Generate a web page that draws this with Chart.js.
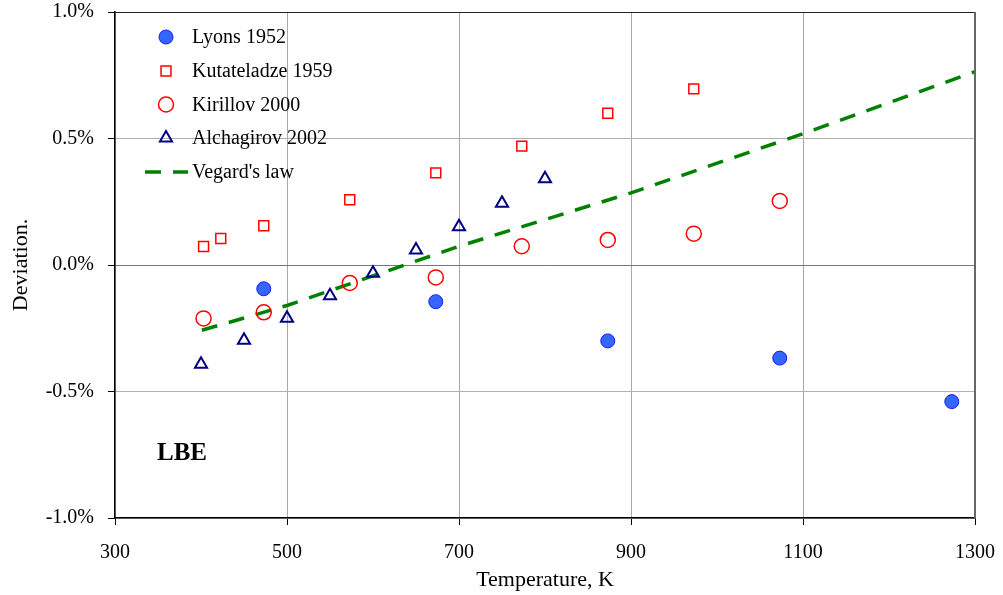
<!DOCTYPE html>
<html>
<head>
<meta charset="utf-8">
<script src="https://cdn.jsdelivr.net/npm/chart.js@4/dist/chart.umd.min.js"></script>
<style>
  body { margin: 0; background: #fff; }
  #wrap { width: 1003px; height: 595px; }
</style>
</head>
<body>
<div id="wrap"><canvas id="chart" width="1003" height="595"></canvas></div>
<script>
// values (temperature in K, deviation in %)
const lyonsT = [473, 673, 873, 1073, 1273];
const lyonsDev = [-0.094, -0.145, -0.30, -0.368, -0.54];

const kutT = [403, 423, 473, 573, 673, 773, 873, 973];
const kutDev = [0.073, 0.105, 0.155, 0.258, 0.364, 0.47, 0.60, 0.696];

const kirT = [403, 473, 573, 673, 773, 873, 973, 1073];
const kirDev = [-0.211, -0.187, -0.071, -0.049, 0.074, 0.099, 0.124, 0.253];

const alcT = [400, 450, 500, 550, 600, 650, 700, 750, 800];
const alcDev = [-0.392, -0.297, -0.21, -0.122, -0.033, 0.059, 0.151, 0.244, 0.341];

const vegT = [401, 500, 700, 900, 1100, 1300];
const vegDev = [-0.258, -0.160, 0.074, 0.285, 0.519, 0.764];

const xTicks = [300, 500, 700, 900, 1100, 1300];
const yTicks = [-1.0, -0.5, 0.0, 0.5, 1.0];

const serif = "'Liberation Serif', 'Times New Roman', serif";

function pts(xs, ys) {
    return xs.map((x, i) => ({ x: x, y: ys[i] }));
}

// legend drawn inside the plot area, top left
const insideLegend = {
    id: 'insideLegend',
    afterDraw(chart) {
        const ctx = chart.ctx;
        const rows = [37, 71, 104.5, 138, 172];
        ctx.save();
        chart.data.datasets.forEach((ds, i) => {
            const y = rows[i];
            const mx = 166;
            ctx.strokeStyle = ds.borderColor;
            ctx.fillStyle = ds.backgroundColor;
            if (ds.showLine) {
                ctx.setLineDash(ds.borderDash);
                ctx.lineWidth = ds.borderWidth;
                ctx.beginPath();
                ctx.moveTo(145, y);
                ctx.lineTo(188, y);
                ctx.stroke();
                ctx.setLineDash([]);
            } else {
                ctx.lineWidth = ds.pointBorderWidth;
                Chart.helpers.drawPoint(ctx, {
                    pointStyle: ds.pointStyle,
                    radius: ds.pointRadius,
                    rotation: 0,
                    borderWidth: ds.pointBorderWidth
                }, mx, y);
            }
            ctx.fillStyle = '#000';
            ctx.font = '20px ' + serif;
            ctx.textBaseline = 'middle';
            ctx.textAlign = 'left';
            ctx.fillText(ds.label, 192, y + 1);
        });
        ctx.font = 'bold 25px ' + serif;
        ctx.textBaseline = 'middle';
        ctx.fillText('LBE', 157, 454);
        ctx.restore();
    }
};

// top and right edges of the plot box
const plotBox = {
    id: 'plotBox',
    afterDatasetsDraw(chart) {
        const a = chart.chartArea;
        const ctx = chart.ctx;
        ctx.save();
        ctx.lineWidth = 1;
        ctx.strokeStyle = '#222';
        ctx.beginPath();
        ctx.moveTo(a.left, a.top + 0.5);
        ctx.lineTo(a.right, a.top + 0.5);
        ctx.stroke();
        ctx.strokeStyle = '#666';
        ctx.lineWidth = 2;
        ctx.beginPath();
        ctx.moveTo(a.right, a.top);
        ctx.lineTo(a.right, a.bottom);
        ctx.stroke();
        ctx.restore();
    }
};

const ctxChart = document.getElementById('chart').getContext('2d');

const chart = new Chart(ctxChart, {
    type: 'scatter',
    data: {
        datasets: [
            {
                label: 'Lyons 1952',
                data: pts(lyonsT, lyonsDev),
                pointStyle: 'circle',
                pointRadius: 7,
                backgroundColor: '#3366ff',
                borderColor: '#1a1aee',
                borderWidth: 1,
                pointBorderWidth: 1,
                showLine: false
            },
            {
                label: 'Kutateladze 1959',
                data: pts(kutT, kutDev),
                pointStyle: 'rect',
                pointRadius: 7,
                backgroundColor: 'transparent',
                borderColor: '#ff0000',
                borderWidth: 1.5,
                pointBorderWidth: 1.5,
                showLine: false
            },
            {
                label: 'Kirillov 2000',
                data: pts(kirT, kirDev),
                pointStyle: 'circle',
                pointRadius: 7.5,
                backgroundColor: 'transparent',
                borderColor: '#ff0000',
                borderWidth: 1.5,
                pointBorderWidth: 1.5,
                showLine: false
            },
            {
                label: 'Alchagirov 2002',
                data: pts(alcT, alcDev),
                pointStyle: 'triangle',
                pointRadius: 7,
                backgroundColor: 'transparent',
                borderColor: '#000080',
                borderWidth: 2,
                pointBorderWidth: 2,
                showLine: false
            },
            {
                label: "Vegard's law",
                data: pts(vegT, vegDev),
                showLine: true,
                pointRadius: 0,
                borderColor: '#008000',
                backgroundColor: 'transparent',
                borderWidth: 3.5,
                borderDash: [16, 12],
                tension: 0
            }
        ]
    },
    options: {
        responsive: false,
        animation: false,
        layout: { padding: { top: 12, right: 28, left: 0, bottom: 0 } },
        plugins: {
            legend: { display: false },
            tooltip: { enabled: false }
        },
        scales: {
            x: {
                type: 'linear',
                min: 300,
                max: 1300,
                afterBuildTicks: (scale) => { scale.ticks = xTicks.map(v => ({ value: v })); },
                afterFit: (scale) => {
                    scale.height = 77;
                    scale.paddingLeft = 0;
                    scale.paddingRight = 0;
                },
                ticks: {
                    color: '#000',
                    font: { family: serif, size: 20 },
                    padding: 16,
                    maxRotation: 0,
                    callback: (v) => String(v)
                },
                grid: {
                    color: '#a8a8a8',
                    lineWidth: 1,
                    tickLength: 7,
                    tickColor: '#000'
                },
                border: { color: '#000', width: 1.5 },
                title: {
                    display: true,
                    text: 'Temperature, K',
                    color: '#000',
                    font: { family: serif, size: 22 },
                    padding: { top: 0, bottom: 2 }
                }
            },
            y: {
                min: -1,
                max: 1,
                afterBuildTicks: (scale) => { scale.ticks = yTicks.map(v => ({ value: v })); },
                afterFit: (scale) => {
                    scale.width = 115;
                    scale.paddingTop = 0;
                    scale.paddingBottom = 0;
                },
                ticks: {
                    color: '#000',
                    font: { family: serif, size: 20 },
                    padding: 14,
                    callback: (v) => v.toFixed(1) + '%'
                },
                grid: {
                    color: (c) => (c.tick && c.tick.value === 0 ? '#777' : '#b0b0b0'),
                    lineWidth: 1,
                    tickLength: 7,
                    tickColor: '#000'
                },
                border: { color: '#000', width: 1.5 },
                title: {
                    display: true,
                    text: 'Deviation.',
                    color: '#000',
                    font: { family: serif, size: 22 },
                    padding: { top: 8, bottom: 0 }
                }
            }
        }
    },
    plugins: [plotBox, insideLegend]
});
</script>
</body>
</html>
